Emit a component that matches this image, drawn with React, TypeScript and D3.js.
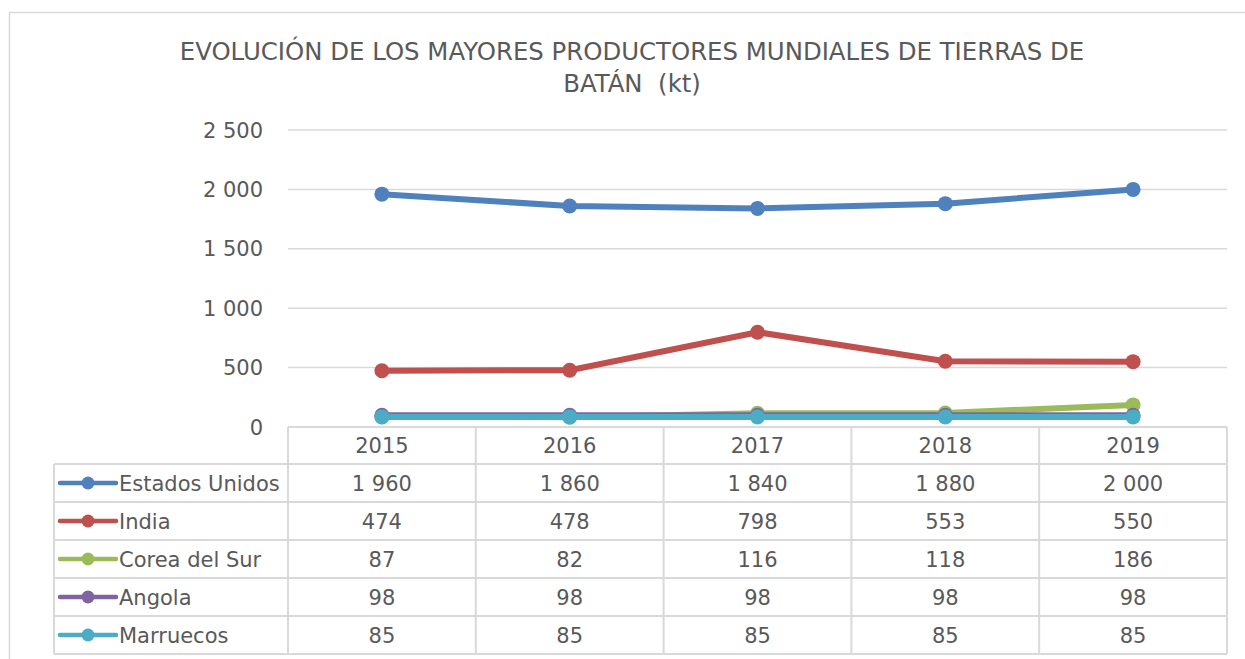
import React from "react";
import * as d3 from "d3";

const years = ["2015", "2016", "2017", "2018", "2019"];
const seriesNames = ["Estados Unidos", "India", "Corea del Sur", "Angola", "Marruecos"];
const estadosUnidos = [1960, 1860, 1840, 1880, 2000];
const india = [474, 478, 798, 553, 550];
const coreaDelSur = [87, 82, 116, 118, 186];
const angola = [98, 98, 98, 98, 98];
const marruecos = [85, 85, 85, 85, 85];
const colors = ["#4F81BD", "#C0504D", "#9BBB59", "#8064A2", "#4BACC6"];
const yTicks = [0, 500, 1000, 1500, 2000, 2500];
const titleLines = ["EVOLUCIÓN DE LOS MAYORES PRODUCTORES MUNDIALES DE TIERRAS DE", "BATÁN  (kt)"];

const allSeries = [estadosUnidos, india, coreaDelSur, angola, marruecos];

const FONT = "'DejaVu Sans', Verdana, sans-serif";
const TEXT = "#595959";
const GRID = "#D9D9D9";

const fmt = (v: number) => {
  const s = String(v);
  return s.replace(/\B(?=(\d{3})+(?!\d))/g, " ");
};

export default function App() {
  const left = 288, right = 1227, top = 130, bottom = 427;
  const x = d3.scaleBand<string>().domain(years).range([left, right]);
  const y = d3.scaleLinear().domain([0, 2500]).range([bottom, top]);
  const line = d3
    .line<number>()
    .x((_, i) => (x(years[i]) as number) + x.bandwidth() / 2)
    .y((d) => y(d));

  const tableLeft = 54;
  const headerH = 37;
  const rowH = 38;
  const rowsTop = bottom + headerH; // 464
  const tableBottom = rowsTop + rowH * seriesNames.length;

  return (
    <svg
      width={1245}
      height={659}
      style={{ position: "absolute", left: 0, top: 0, background: "#fff" }}
    >
      <rect x={9.5} y={12.5} width={1400} height={800} fill="#fff" stroke={GRID} strokeWidth={1.5} />
      {titleLines.map((t, i) => (
        <text
          key={i}
          x={632}
          y={60 + i * 32}
          textAnchor="middle"
          fontFamily={FONT}
          fontSize={24.4}
          fill={TEXT}
          style={{ whiteSpace: "pre" }}
        >
          {t}
        </text>
      ))}
      {yTicks.map((t) => (
        <g key={t}>
          {t !== 0 && (
            <line x1={left} x2={right} y1={y(t)} y2={y(t)} stroke={GRID} strokeWidth={1.5} />
          )}
          <text
            x={263}
            y={y(t)}
            dy="0.36em"
            textAnchor="end"
            fontFamily={FONT}
            fontSize={21}
            fill={TEXT}
          >
            {fmt(t)}
          </text>
        </g>
      ))}

      {/* table grid */}
      <g stroke={GRID} strokeWidth={2} fill="none">
        <line x1={left} x2={right} y1={bottom} y2={bottom} />
        {seriesNames.map((_, i) => (
          <line key={"h" + i} x1={tableLeft} x2={right} y1={rowsTop + i * rowH} y2={rowsTop + i * rowH} />
        ))}
        <line x1={tableLeft} x2={right} y1={tableBottom} y2={tableBottom} />
        <line x1={tableLeft} x2={tableLeft} y1={rowsTop} y2={tableBottom} />
        {years.map((yr) => (
          <line key={"v" + yr} x1={x(yr)} x2={x(yr)} y1={bottom} y2={tableBottom} />
        ))}
        <line x1={right} x2={right} y1={bottom} y2={tableBottom} />
      </g>

      {years.map((yr) => (
        <text
          key={"hd" + yr}
          x={(x(yr) as number) + x.bandwidth() / 2}
          y={bottom + headerH / 2}
          dy="0.36em"
          textAnchor="middle"
          fontFamily={FONT}
          fontSize={21}
          fill={TEXT}
        >
          {yr}
        </text>
      ))}

      {seriesNames.map((name, si) => {
        const cy = rowsTop + si * rowH + rowH / 2;
        return (
          <g key={"row" + name}>
            <line x1={60} x2={116} y1={cy} y2={cy} stroke={colors[si]} strokeWidth={4.5} strokeLinecap="round" />
            <circle cx={88} cy={cy} r={6.5} fill={colors[si]} />
            <text x={119} y={cy} dy="0.36em" fontFamily={FONT} fontSize={21} fill={TEXT}>
              {name}
            </text>
            {allSeries[si].map((v, i) => (
              <text
                key={i}
                x={(x(years[i]) as number) + x.bandwidth() / 2}
                y={cy}
                dy="0.36em"
                textAnchor="middle"
                fontFamily={FONT}
                fontSize={21}
                fill={TEXT}
              >
                {fmt(v)}
              </text>
            ))}
          </g>
        );
      })}

      {allSeries.map((vals, si) => (
        <g key={"s" + si}>
          <path d={line(vals) as string} fill="none" stroke={colors[si]} strokeWidth={6} strokeLinejoin="round" />
          {vals.map((v, i) => (
            <circle
              key={i}
              cx={(x(years[i]) as number) + x.bandwidth() / 2}
              cy={y(v)}
              r={7.5}
              fill={colors[si]}
            />
          ))}
        </g>
      ))}
    </svg>
  );
}
